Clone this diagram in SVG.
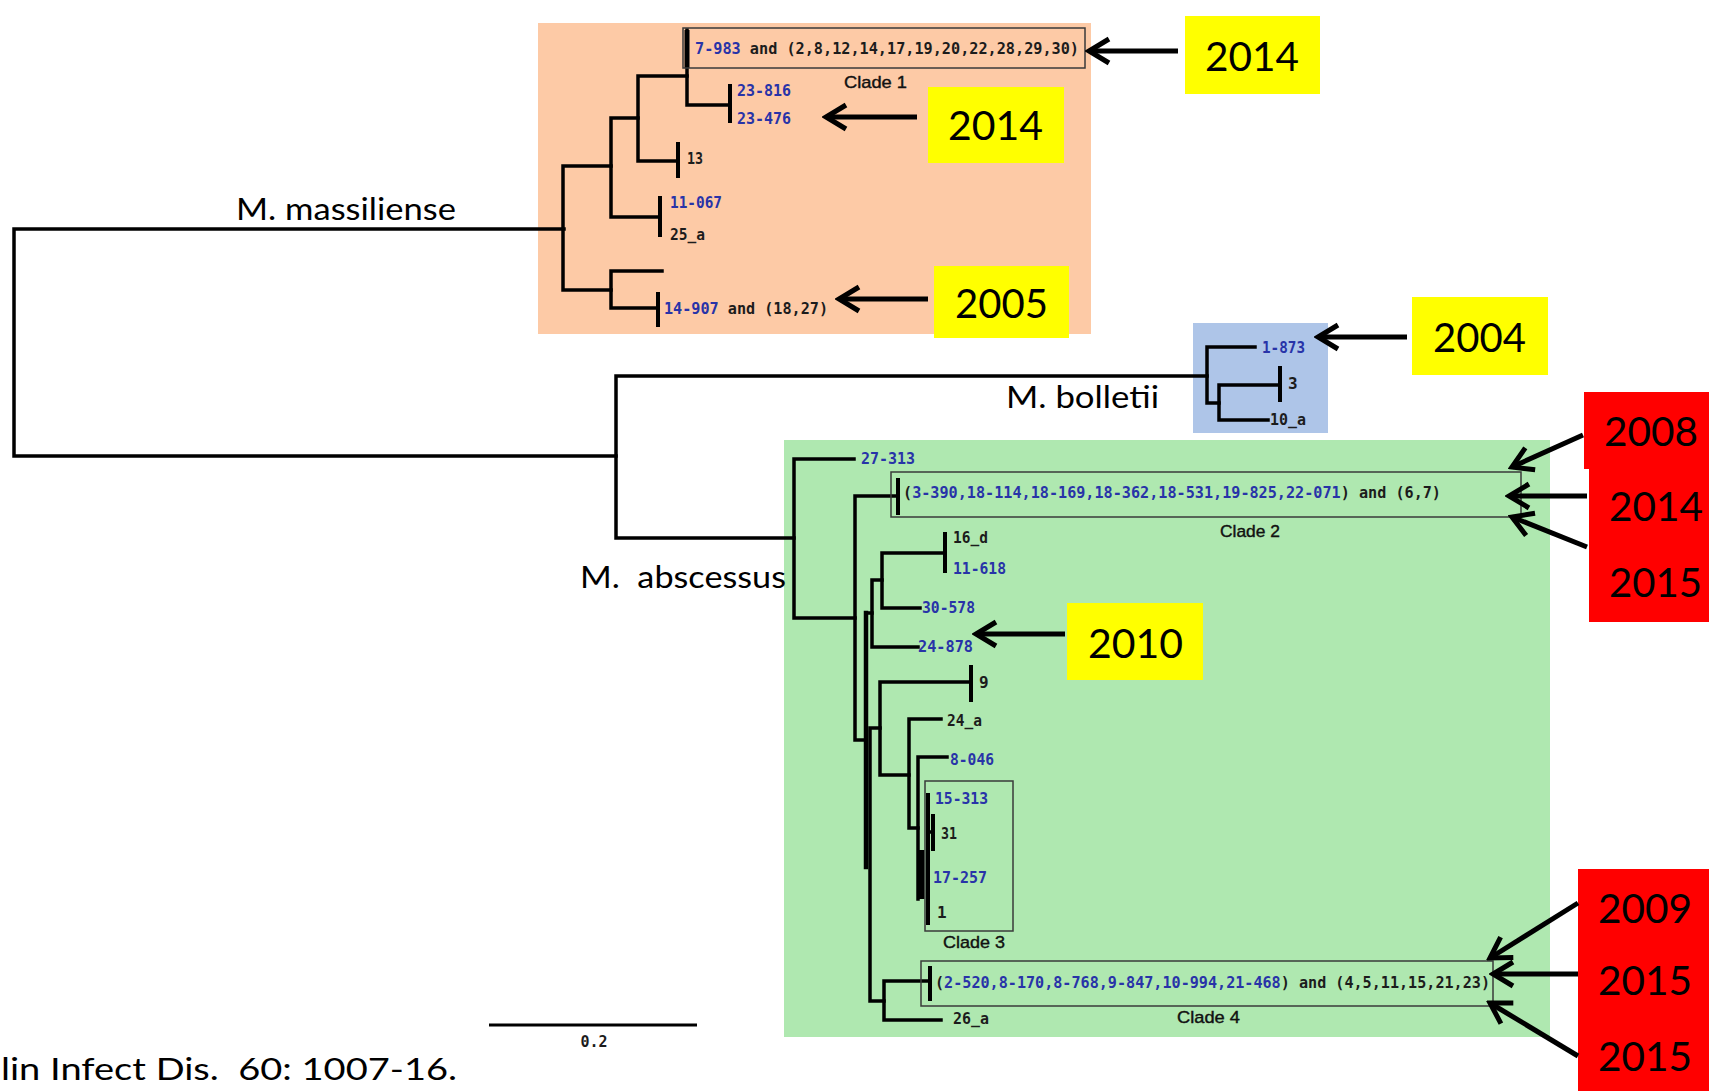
<svg xmlns="http://www.w3.org/2000/svg" width="1709" height="1091" viewBox="0 0 1709 1091">
<style>
.tr{stroke:#000;stroke-width:3.5;fill:none;stroke-linecap:square;stroke-linejoin:miter}
.tk{stroke:#000;stroke-width:4;fill:none}
.lb{font-family:"DejaVu Sans Mono","Liberation Mono",monospace;font-weight:bold;font-size:16px;fill:#1c1c1c}
.bl{fill:#2833a8}
.big{font-family:Lato,"Liberation Sans",sans-serif;font-size:30px;fill:#000}
.yr{font-family:Lato,"Liberation Sans",sans-serif;font-size:41px;fill:#000}
.cl{font-family:"Liberation Sans",Arial,sans-serif;font-size:17px;fill:#111;stroke:#111;stroke-width:0.4}
.cb{fill:none;stroke:#3a3a3a;stroke-width:1.5}
.arr{stroke:#000;stroke-width:5;fill:none;marker-end:url(#ah)}
.yel{fill:#ffff00}
.red{fill:#ff0000}
</style>
<defs>
<marker id="ah" markerUnits="userSpaceOnUse" viewBox="-26 -17 30 34" markerWidth="30" markerHeight="34" refX="0" refY="0" orient="auto">
<path d="M -20 -12 L 0 0 L -20 12" stroke="#000" stroke-width="5" fill="none" stroke-linejoin="miter"/>
</marker>
</defs>
<rect width="1709" height="1091" fill="#fff"/>

<g id="clade-backgrounds">
<rect id="bg-massiliense" x="538" y="23" width="553" height="311" fill="#fdcaa6"/>
<rect id="bg-bolletii" x="1193" y="323" width="135" height="110" fill="#aec5e8"/>
<rect id="bg-abscessus" x="784" y="440" width="766" height="597" fill="#afe8b0"/>
</g>

<g id="tree">
<path class="tr" d="M564 229 H14 V456 H616"/>
<path class="tr" d="M611 166 H563 V290 H611"/>
<path class="tr" d="M638 118 H611 V217 H660"/>
<path class="tr" d="M687 76 H638 V161 H678"/>
<path class="tr" d="M687 30 V105 H730"/>
<path class="tk" d="M687 30 V68" style="stroke-width:5"/>
<path class="tk" d="M730 84 V123"/>
<path class="tk" d="M678 142 V178"/>
<path class="tk" d="M660 196 V237"/>
<path class="tr" d="M662 271 H611 V308 H658"/>
<path class="tk" d="M658 292 V327"/>
<path class="tr" d="M1207 376 H616 V538 H794"/>
<path class="tr" d="M1255 347 H1207 V403 H1219"/>
<path class="tr" d="M1280 385 H1219 V420 H1268"/>
<path class="tk" d="M1280 366 V402"/>
<path class="tr" d="M854 459 H794 V618 H855"/>
<path class="tr" d="M898 496 H855 V740 H866"/>
<path class="tk" d="M898 478 V515"/>
<path class="tr" d="M866 613 V867" style="stroke-width:4.5"/>
<path class="tr" d="M866 613 H872"/>
<path class="tr" d="M882 580 H872 V647 H918"/>
<path class="tr" d="M945 553 H882 V608 H920"/>
<path class="tk" d="M945 532 V573"/>
<path class="tr" d="M880 728 H870 V1001 H884"/>
<path class="tr" d="M971 682 H880 V775 H909"/>
<path class="tk" d="M971 665 V702"/>
<path class="tr" d="M941 719 H909 V828 H918"/>
<path class="tr" d="M947 757 H918 V899"/>
<path class="tr" d="M921 850 V899" style="stroke-width:7;stroke-linecap:butt"/>
<path class="tr" d="M928 793 V925" style="stroke-width:4;stroke-linecap:butt"/>
<path class="tr" d="M928 832 H933"/>
<path class="tk" d="M933 814 V851"/>
<path class="tr" d="M930 981 H884 V1020 H941"/>
<path class="tk" d="M930 966 V1001"/>
</g>

<g id="clade-boxes">
<rect id="box-clade1" class="cb" x="683" y="28" width="402" height="40"/>
<rect id="box-clade2" class="cb" x="891" y="472" width="630" height="45"/>
<rect id="box-clade3" class="cb" x="925" y="781" width="88" height="150"/>
<rect id="box-clade4" class="cb" x="921" y="961" width="572" height="45"/>
</g>

<g id="leaf-labels">
<text id="t-7-983" class="lb" x="695" y="54" textLength="384" lengthAdjust="spacingAndGlyphs"><tspan class="bl">7-983</tspan> and (2,8,12,14,17,19,20,22,28,29,30)</text>
<text class="lb bl" x="737" y="96" textLength="54" lengthAdjust="spacingAndGlyphs">23-816</text>
<text class="lb bl" x="737" y="124" textLength="54" lengthAdjust="spacingAndGlyphs">23-476</text>
<text class="lb" x="687" y="164" textLength="16" lengthAdjust="spacingAndGlyphs">13</text>
<text class="lb bl" x="670" y="208" textLength="52" lengthAdjust="spacingAndGlyphs">11-067</text>
<text class="lb" x="670" y="240" textLength="35" lengthAdjust="spacingAndGlyphs">25_a</text>
<text class="lb" x="664" y="314" textLength="164" lengthAdjust="spacingAndGlyphs"><tspan class="bl">14-907</tspan> and (18,27)</text>
<text class="lb bl" x="1262" y="353" textLength="43" lengthAdjust="spacingAndGlyphs">1-873</text>
<text class="lb" x="1288" y="389">3</text>
<text class="lb" x="1270" y="425" textLength="36" lengthAdjust="spacingAndGlyphs">10_a</text>
<text class="lb bl" x="861" y="464" textLength="54" lengthAdjust="spacingAndGlyphs">27-313</text>
<text id="t-clade2" class="lb" x="903" y="498" textLength="538" lengthAdjust="spacingAndGlyphs">(<tspan class="bl">3-390,18-114,18-169,18-362,18-531,19-825,22-071</tspan>) and (6,7)</text>
<text class="lb" x="953" y="543" textLength="35" lengthAdjust="spacingAndGlyphs">16_d</text>
<text class="lb bl" x="953" y="574" textLength="53" lengthAdjust="spacingAndGlyphs">11-618</text>
<text class="lb bl" x="922" y="613" textLength="53" lengthAdjust="spacingAndGlyphs">30-578</text>
<text class="lb bl" x="918" y="652" textLength="55" lengthAdjust="spacingAndGlyphs">24-878</text>
<text class="lb" x="979" y="688">9</text>
<text class="lb" x="947" y="726" textLength="35" lengthAdjust="spacingAndGlyphs">24_a</text>
<text class="lb bl" x="950" y="765" textLength="44" lengthAdjust="spacingAndGlyphs">8-046</text>
<text class="lb bl" x="935" y="804" textLength="53" lengthAdjust="spacingAndGlyphs">15-313</text>
<text class="lb" x="941" y="839" textLength="16" lengthAdjust="spacingAndGlyphs">31</text>
<text class="lb bl" x="933" y="883" textLength="54" lengthAdjust="spacingAndGlyphs">17-257</text>
<text class="lb" x="937" y="918">1</text>
<text id="t-clade4" class="lb" x="935" y="988" textLength="555" lengthAdjust="spacingAndGlyphs">(<tspan class="bl">2-520,8-170,8-768,9-847,10-994,21-468</tspan>) and (4,5,11,15,21,23)</text>
<text class="lb" x="953" y="1024" textLength="36" lengthAdjust="spacingAndGlyphs">26_a</text>
</g>

<g id="clade-labels">
<text class="cl" x="844" y="88" textLength="63" lengthAdjust="spacingAndGlyphs">Clade 1</text>
<text class="cl" x="1220" y="537" textLength="60" lengthAdjust="spacingAndGlyphs">Clade 2</text>
<text class="cl" x="943" y="948" textLength="62" lengthAdjust="spacingAndGlyphs">Clade 3</text>
<text class="cl" x="1177" y="1023" textLength="63" lengthAdjust="spacingAndGlyphs">Clade 4</text>
</g>

<g id="species-labels">
<text class="big" x="236" y="220" textLength="220" lengthAdjust="spacingAndGlyphs">M. massiliense</text>
<text class="big" x="1006" y="408" textLength="153" lengthAdjust="spacingAndGlyphs">M. bolletii</text>
<text class="big" x="580" y="588" textLength="206" lengthAdjust="spacingAndGlyphs" xml:space="preserve">M.  abscessus</text>
</g>

<g id="scale-bar">
<path d="M489 1025 H697" stroke="#000" stroke-width="3"/>
<text class="lb" x="594" y="1047" text-anchor="middle" style="font-size:15px">0.2</text>
</g>

<text id="citation" class="big" x="1" y="1080" textLength="456" lengthAdjust="spacingAndGlyphs" xml:space="preserve">lin Infect Dis.  60: 1007-16.</text>

<g id="year-boxes">
<g id="y2014a"><rect class="yel" x="1185" y="16" width="135" height="78"/><text class="yr" x="1205" y="71" textLength="94" lengthAdjust="spacingAndGlyphs">2014</text></g>
<g id="y2014b"><rect class="yel" x="928" y="87" width="136" height="76"/><text class="yr" x="948" y="140" textLength="95" lengthAdjust="spacingAndGlyphs">2014</text></g>
<g id="y2005"><rect class="yel" x="934" y="266" width="135" height="72"/><text class="yr" x="955" y="318" textLength="93" lengthAdjust="spacingAndGlyphs">2005</text></g>
<g id="y2004"><rect class="yel" x="1412" y="297" width="136" height="78"/><text class="yr" x="1433" y="352" textLength="93" lengthAdjust="spacingAndGlyphs">2004</text></g>
<g id="y2010"><rect class="yel" x="1067" y="603" width="136" height="77"/><text class="yr" x="1088" y="658" textLength="95" lengthAdjust="spacingAndGlyphs">2010</text></g>
<g id="r2008"><rect class="red" x="1584" y="392" width="125" height="77"/><text class="yr" x="1604" y="446" textLength="94" lengthAdjust="spacingAndGlyphs">2008</text></g>
<g id="r2014-2015"><rect class="red" x="1589" y="469" width="120" height="153"/><text class="yr" x="1609" y="521" textLength="94" lengthAdjust="spacingAndGlyphs">2014</text><text class="yr" x="1609" y="597" textLength="93" lengthAdjust="spacingAndGlyphs">2015</text></g>
<g id="r2009-2015-2015"><rect class="red" x="1578" y="869" width="131" height="222"/><text class="yr" x="1598" y="923" textLength="94" lengthAdjust="spacingAndGlyphs">2009</text><text class="yr" x="1598" y="995" textLength="94" lengthAdjust="spacingAndGlyphs">2015</text><text class="yr" x="1598" y="1071" textLength="94" lengthAdjust="spacingAndGlyphs">2015</text></g>
</g>

<g id="connectors">
<path class="arr" d="M1178 51 H1089"/>
<path class="arr" d="M917 117 H826"/>
<path class="arr" d="M928 299 H839"/>
<path class="arr" d="M1407 337 H1318"/>
<path class="arr" d="M1065 634 H976"/>
<path class="arr" d="M1583 435 L1512 467"/>
<path class="arr" d="M1587 496 H1509"/>
<path class="arr" d="M1587 547 L1512 517"/>
<path class="arr" d="M1578 903 L1490 958"/>
<path class="arr" d="M1578 974 H1493"/>
<path class="arr" d="M1578 1056 L1490 1003"/>
</g>
</svg>
